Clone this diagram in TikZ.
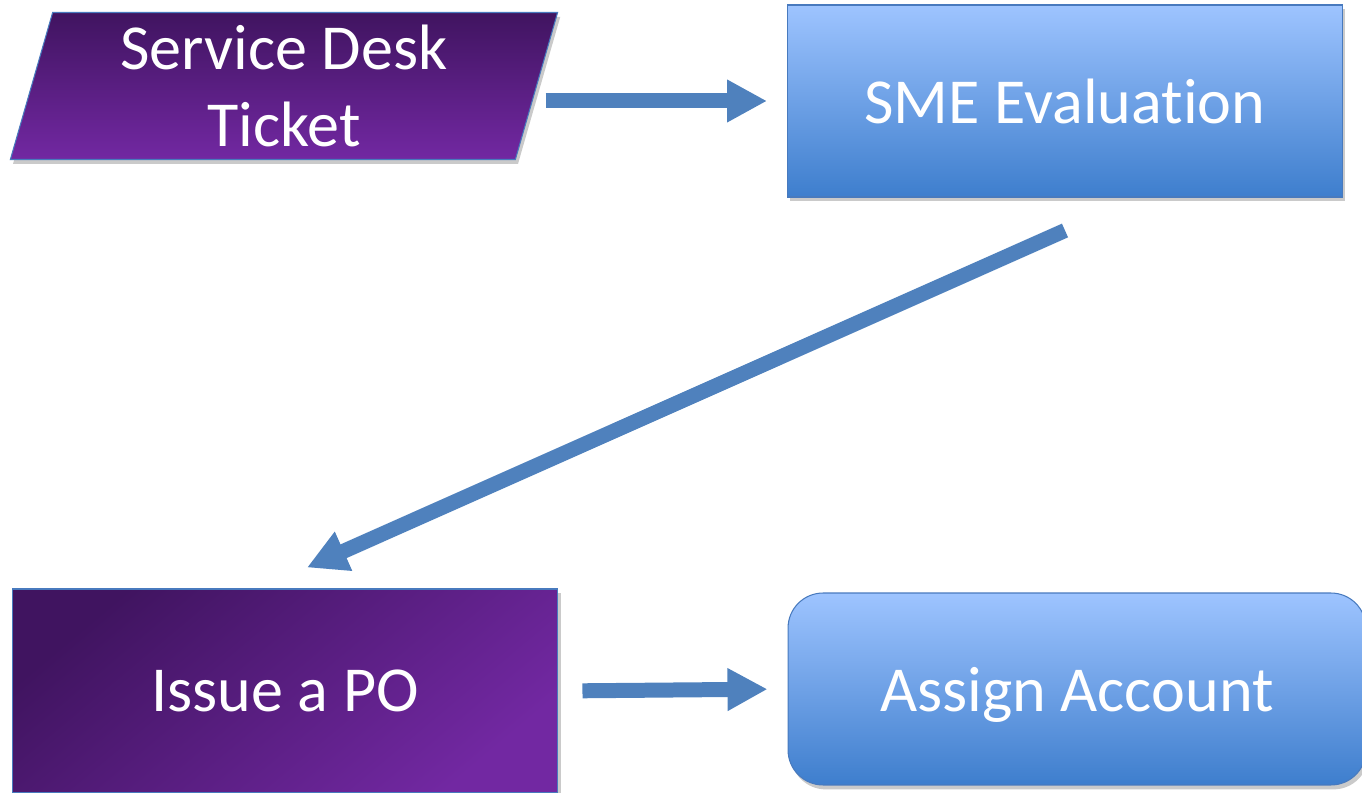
\documentclass[tikz,border=0pt]{standalone}
\usepackage{fontspec}
\setmainfont[Ligatures={NoCommon,NoContextual}, RawFeature={-liga;-clig;-calt}]{Carlito}
\usetikzlibrary{shadows}
\usetikzlibrary{arrows.meta,shapes.geometric}
\usetikzlibrary{calc}

\definecolor{blueTop}{RGB}{158,196,255}
\definecolor{blueBot}{RGB}{62,126,205}
\definecolor{purpDark}{RGB}{64,20,96}
\definecolor{purpLight}{RGB}{114,40,162}
\definecolor{arrowBlue}{RGB}{79,129,189}
\definecolor{edgeBlue}{RGB}{72,122,190}

\begin{document}
\begin{tikzpicture}[x=0.02cm, y=-0.02cm,
  boxtext/.style={text=white, align=center, font=\fontsize{36.5}{44}\selectfont},
  softshadow/.style={drop shadow={shadow xshift=1.5pt, shadow yshift=-2.5pt, opacity=0.35, fill=black!60}},
  bluebox/.style={boxtext, softshadow, draw=edgeBlue, line width=0.6pt, top color=blueTop, bottom color=blueBot},
  purplebox/.style={boxtext, softshadow, draw=edgeBlue, line width=0.6pt},
  flowarrow/.style={draw=arrowBlue, line width=0.3cm, -{Triangle[length=0.8cm, width=0.8cm]}}]

\useasboundingbox (0,0) rectangle (1362,793);

% top row
\node[purplebox, trapezium, trapezium left angle=77, trapezium right angle=103, trapezium stretches=true,
  minimum width=10.96cm, minimum height=2.94cm, top color=purpDark, bottom color=purpLight] (ticket) at (284,86) {Service Desk\\Ticket};
\node[bluebox, rectangle, minimum width=11.1cm, minimum height=3.84cm] (sme) at (1065,101) {SME Evaluation};

% bottom row
\node[purplebox, rectangle, minimum width=10.92cm, minimum height=4.08cm,
  top color=purpDark, bottom color=purpLight, shading angle=40] (po) at (285,691) {Issue a PO};
\node[bluebox, rectangle, rounded corners=0.7cm, minimum width=11.56cm, minimum height=3.84cm,
  text depth=0pt] (acct) at (1077,689) {Assign Account};

\coordinate (diagfrom) at ([yshift=-0.66cm]sme.south);
\coordinate (diagto) at ([xshift=0.44cm, yshift=0.42cm]po.north);

\draw[flowarrow, shorten <=0.17cm, shorten >=0.4cm] (ticket.east |- sme.west) -- (sme.west);
\draw[flowarrow] (diagfrom) -- (diagto);
\draw[flowarrow, shorten <=0.48cm, shorten >=0.4cm] (po.east) -- (acct.west);

\end{tikzpicture}
\end{document}
